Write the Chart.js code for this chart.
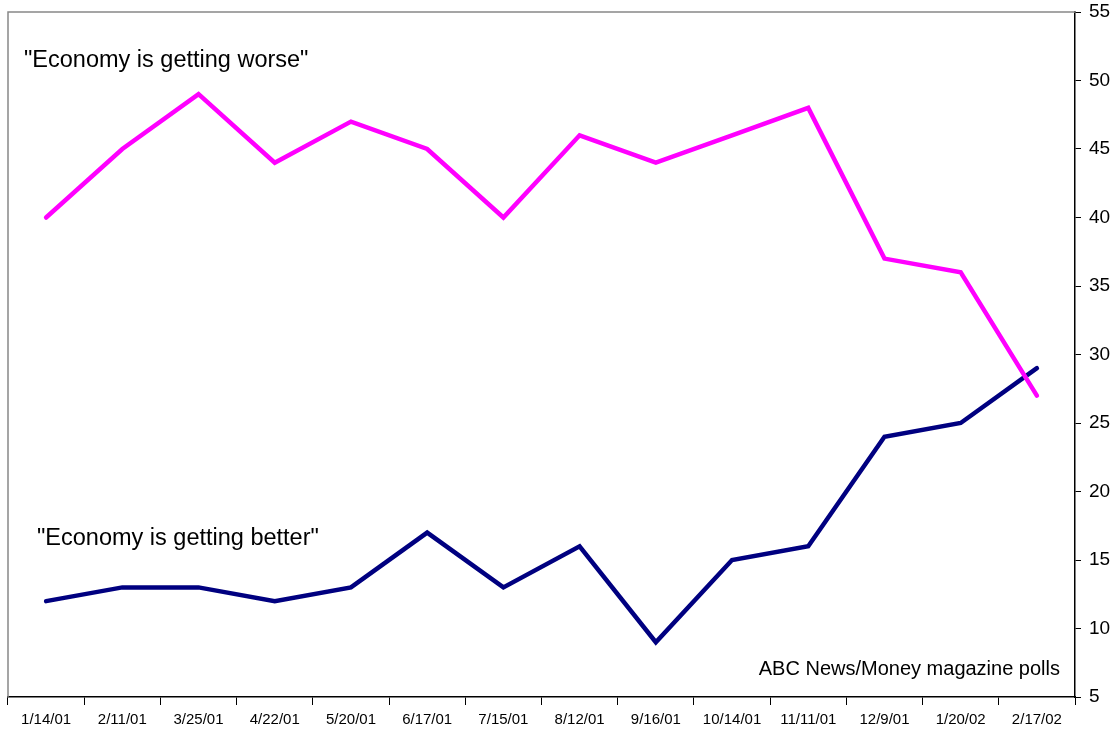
<!DOCTYPE html>
<html>
<head>
<meta charset="utf-8">
<script src="https://cdn.jsdelivr.net/npm/chart.js@4.4.0/dist/chart.umd.min.js"></script>
<style>
  html, body { margin: 0; padding: 0; background: #fff; }
  #wrap { width: 1117px; height: 734px; }
</style>
</head>
<body>
<div id="wrap"><canvas id="chart" width="1117" height="734"></canvas></div>
<script>
// poll dates
const labels = ['1/14/01', '2/11/01', '3/25/01', '4/22/01', '5/20/01', '6/17/01', '7/15/01',
                '8/12/01', '9/16/01', '10/14/01', '11/11/01', '12/9/01', '1/20/02', '2/17/02'];

// percent saying the economy is getting worse / better
const worse  = [40, 45, 49, 44, 47, 45, 40, 46, 44, 46, 48, 37, 36, 27];
const better = [12, 13, 13, 12, 13, 17, 13, 16, 9, 15, 16, 24, 25, 29];

const yMin = 5, yMax = 55, yStep = 5;

Chart.defaults.font.family = '"Liberation Sans", Arial, sans-serif';
Chart.defaults.color = '#000';

// grey frame on top and left, plus the text notes
const notes = {
  id: 'notes',
  beforeDatasetsDraw(chart){
    const {ctx, chartArea: a} = chart;
    ctx.save();
    ctx.strokeStyle = '#888';
    ctx.lineWidth = 1.5;
    ctx.beginPath();
    ctx.moveTo(a.left, a.bottom);
    ctx.lineTo(a.left, a.top);
    ctx.lineTo(a.right, a.top);
    ctx.stroke();
    ctx.restore();
  },
  afterDraw(chart){
    const ctx = chart.ctx;
    ctx.save();
    ctx.fillStyle = '#000';
    ctx.textBaseline = 'middle';
    ctx.font = '23.5px "Liberation Sans", Arial, sans-serif';
    ctx.textAlign = 'left';
    ctx.fillText('"Economy is getting worse"', 24, 61);
    ctx.fillText('"Economy is getting better"', 37, 539);
    ctx.font = '20px "Liberation Sans", Arial, sans-serif';
    ctx.textAlign = 'right';
    ctx.fillText('ABC News/Money magazine polls', 1060, 669);
    ctx.restore();
  }
};

new Chart(document.getElementById('chart').getContext('2d'), {
  type: 'line',
  data: {
    labels: labels,
    datasets: [
      {label: 'worse', data: worse, borderColor: '#ff00ff', borderWidth: 4.5, tension: 0},
      {label: 'better', data: better, borderColor: '#000080', borderWidth: 4.5, tension: 0}
    ]
  },
  options: {
    responsive: false,
    animation: false,
    layout: {padding: {left: 8, top: 12, right: 6, bottom: 0}},
    elements: {point: {radius: 0}, line: {borderCapStyle: 'round', borderJoinStyle: 'miter'}},
    plugins: {legend: {display: false}, tooltip: {enabled: false}},
    scales: {
      x: {
        offset: true,
        afterFit(scale){ scale.height = 37; },
        grid: {offset: true, drawOnChartArea: false, drawTicks: true, tickLength: 8, tickColor: '#000'},
        border: {color: '#000', width: 1.5},
        ticks: {font: {size: 15}, padding: 6, maxRotation: 0, autoSkip: false}
      },
      y: {
        position: 'right',
        min: yMin, max: yMax,
        afterFit(scale){
          scale.width = 36;
          scale.paddingTop = 0;
          scale.paddingBottom = 0;
        },
        grid: {drawOnChartArea: false, drawTicks: true, tickLength: 6, tickColor: '#000'},
        border: {color: '#000', width: 1.5},
        ticks: {stepSize: yStep, font: {size: 19}, padding: 8}
      }
    }
  },
  plugins: [notes]
});
</script>
</body>
</html>
